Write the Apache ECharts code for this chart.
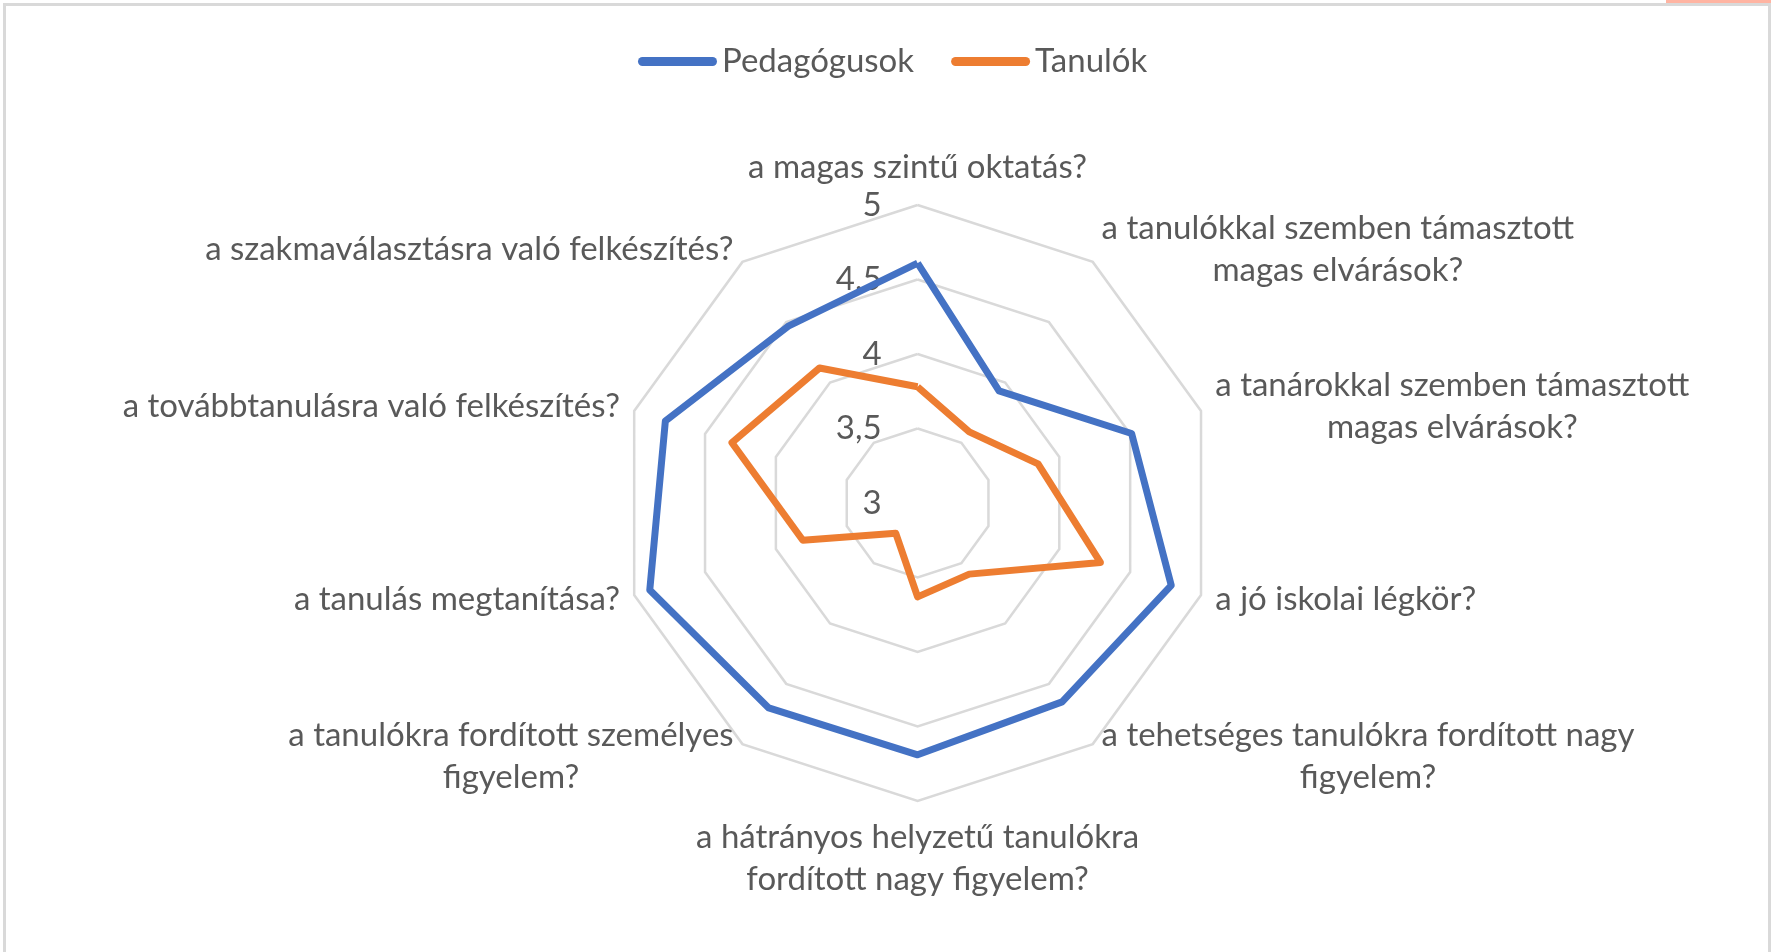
<!DOCTYPE html>
<html>
<head>
<meta charset="utf-8">
<script src="https://cdn.jsdelivr.net/npm/echarts@6/dist/echarts.min.js"></script>
<style>
  html, body { margin: 0; padding: 0; background: #ffffff; }
  #chart { position: absolute; left: 0; top: 0; width: 1771px; height: 952px; }
  #frame { position: absolute; left: 3px; top: 3px; width: 1762px; height: 960px;
           border: 3px solid #d9d9d9; border-bottom: none; pointer-events: none; }
  #corner { position: absolute; left: 1666px; top: 0; width: 105px; height: 3px; background: #ffb4a2; }
</style>
</head>
<body>
<div id="chart"></div>
<div id="frame"></div>
<div id="corner"></div>
<script>
// Categories in clockwise order starting from the top
const categories = [
  "a magas szintű oktatás?",
  "a tanulókkal szemben támasztott\nmagas elvárások?",
  "a tanárokkal szemben támasztott\nmagas elvárások?",
  "a jó iskolai légkör?",
  "a tehetséges tanulókra fordított nagy\nfigyelem?",
  "a hátrányos helyzetű tanulókra\nfordított nagy figyelem?",
  "a tanulókra fordított személyes\nfigyelem?",
  "a tanulás megtanítása?",
  "a továbbtanulásra való felkészítés?",
  "a szakmaválasztásra való felkészítés?"
];
const seriesNames = ["Pedagógusok", "Tanulók"];
const pedagogusok = [4.61, 3.93, 4.51, 4.79, 4.65, 4.69, 4.70, 4.89, 4.78, 4.47];
const tanulok     = [3.78, 3.59, 3.85, 4.29, 3.59, 3.63, 3.25, 3.81, 4.31, 4.12];
const axisMin = 3, axisMax = 5, axisSplits = 4;

// ECharts radar runs counter-clockwise; reorder so the chart reads clockwise.
const order = categories.map((_, i) => (categories.length - i) % categories.length);
const reorder = arr => order.map(i => arr[i]);

const FONT = 'Lato';
const TXT = '#595959';
const labelSize = 33;

const indicators = reorder(categories).map((name, k) => {
  const ind = { name: name, min: axisMin, max: axisMax };
  if (k === 0) {
    ind.axisLabel = {
      show: true,
      color: TXT,
      fontFamily: FONT,
      fontSize: labelSize,
      margin: 36,
      formatter: v => String(v).replace('.', ',')
    };
  }
  return ind;
});

const chart = echarts.init(document.getElementById('chart'), null, { renderer: 'canvas' });
chart.setOption({
  animation: false,
  backgroundColor: '#ffffff',
  color: ['#4472C4', '#ED7D31'],
  legend: {
    top: 40,
    left: 633,
    itemWidth: 79,
    itemHeight: 9,
    itemGap: 37,
    icon: 'path://M4.5,0 L74.5,0 A4.5,4.5 0 0 1 74.5,9 L4.5,9 A4.5,4.5 0 0 1 4.5,0 Z',
    textStyle: { color: TXT, fontFamily: FONT, fontSize: labelSize, padding: [0, 0, 0, 0] },
    data: seriesNames
  },
  radar: {
    center: [917.6, 503],
    radius: 298,
    startAngle: 90,
    splitNumber: axisSplits,
    shape: 'polygon',
    indicator: indicators,
    nameGap: 15,
    axisName: {
      color: TXT,
      fontFamily: FONT,
      fontSize: labelSize,
      lineHeight: 42,
      formatter: name => name.split('\n').map(l => '{c|' + l + '}').join('\n'),
      rich: { c: { align: 'center', color: TXT, fontFamily: FONT, fontSize: labelSize, lineHeight: 42 } }
    },
    axisLine: { show: false },
    axisTick: { show: false },
    axisLabel: { show: false },
    splitArea: { show: false },
    splitLine: { lineStyle: { color: '#d9d9d9', width: 2.5 } }
  },
  series: [{
    type: 'radar',
    symbol: 'none',
    data: [
      { name: seriesNames[0], value: reorder(pedagogusok),
        lineStyle: { color: '#4472C4', width: 7, join: 'round' }, itemStyle: { color: '#4472C4' } },
      { name: seriesNames[1], value: reorder(tanulok),
        lineStyle: { color: '#ED7D31', width: 7, join: 'round' }, itemStyle: { color: '#ED7D31' } }
    ]
  }]
});
</script>
</body>
</html>
